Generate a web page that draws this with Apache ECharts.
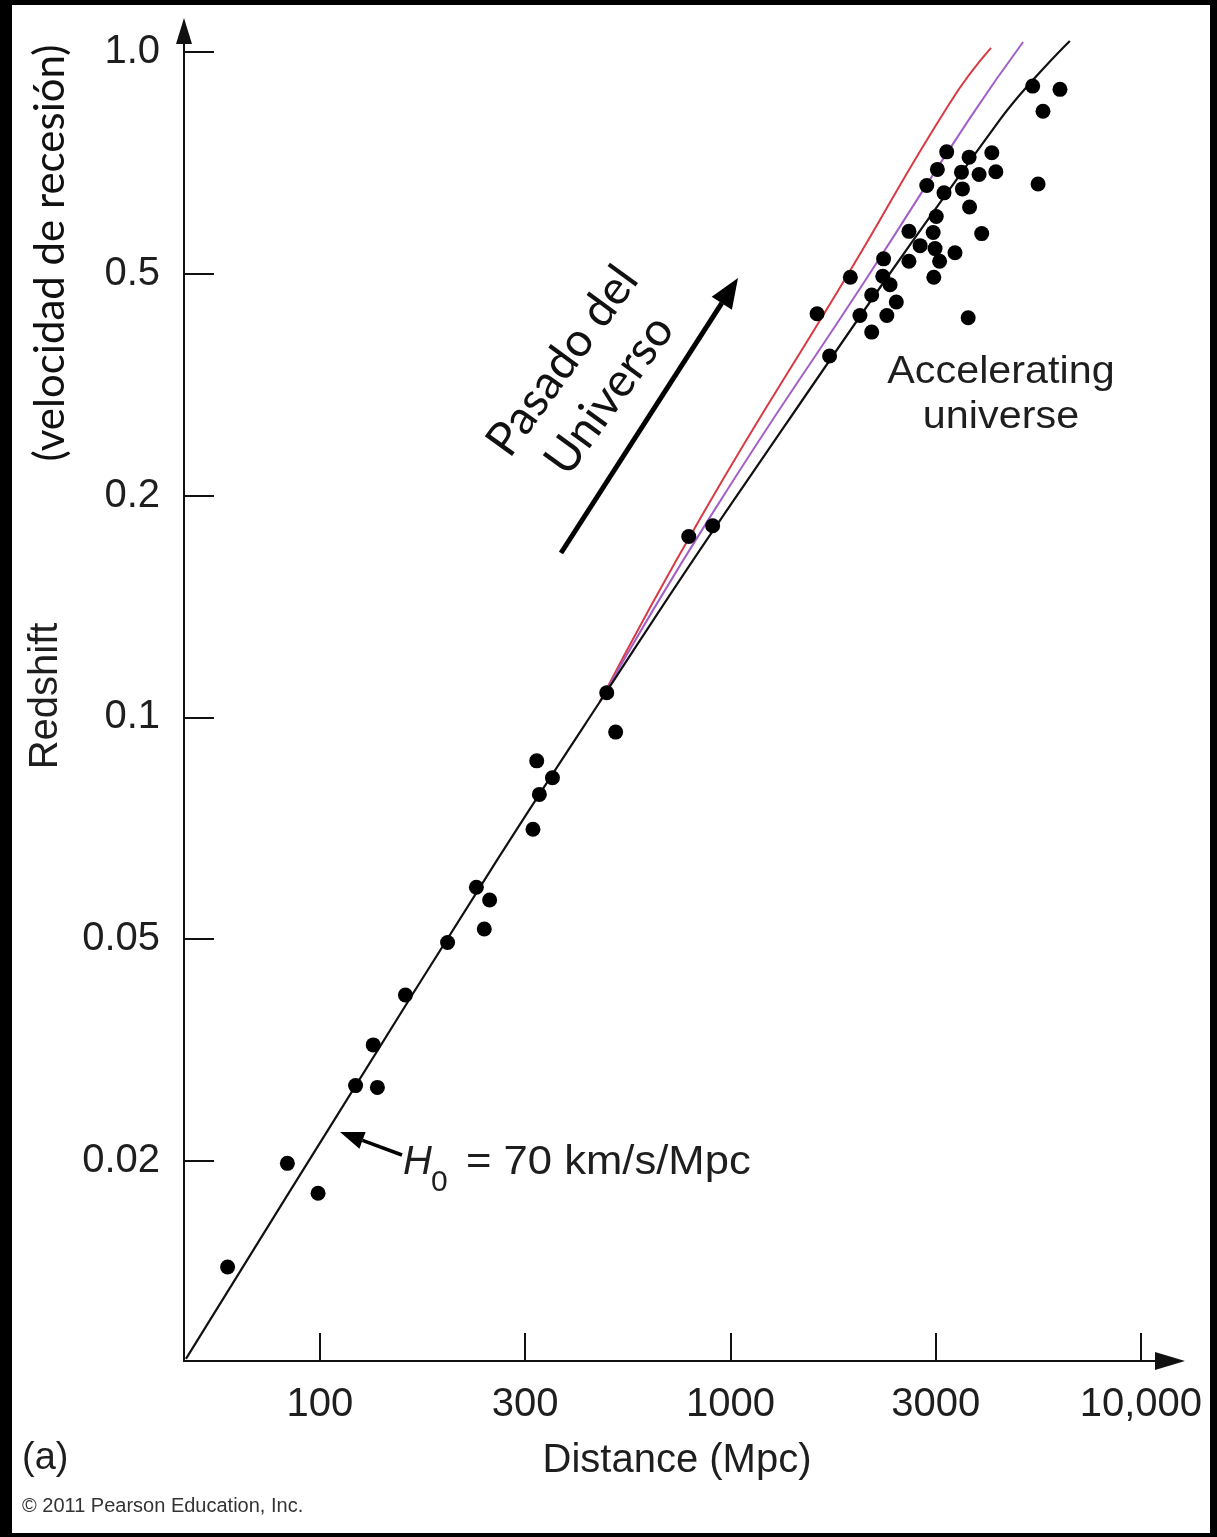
<!DOCTYPE html>
<html>
<head>
<meta charset="utf-8">
<script src="https://cdn.jsdelivr.net/npm/echarts@6/dist/echarts.min.js"></script>
<style>
html,body{margin:0;padding:0;background:#fff;}
#chart{width:1217px;height:1537px;}
</style>
</head>
<body>
<div id="chart"></div>
<script>
// ---- axis ticks (equally spaced on the figure) ----
const X_TICK_VALUES = [100, 300, 1000, 3000, 10000];
const X_TICK_LABELS = ['100', '300', '1000', '3000', '10,000'];
const Y_TICK_VALUES = [0.02, 0.05, 0.1, 0.2, 0.5, 1.0];
const Y_TICK_LABELS = ['0.02', '0.05', '0.1', '0.2', '0.5', '1.0'];
const X_RANGE = [48.3, 11860];
const Y_RANGE = [0.00875, 1.068];

// ---- galaxies / supernovae: distance (Mpc) and redshift ----
const galaxyDistance = [5300, 6220, 5630, 3200, 3650, 4170, 3030, 3490, 3870, 4270,
  2860, 3150, 3510, 5470, 3660, 3010, 2600, 2960, 3930, 2760,
  2990, 3360, 2270, 3070, 2600, 2260, 1900, 2350, 2970, 2130,
  2430, 1590, 2000, 2310, 2130, 3630, 1700,
  783, 901, 484, 510, 321, 352, 326, 314,
  231, 248, 241, 198, 158, 133, 121, 136, 84, 99, 61];
const galaxyRedshift = [0.899, 0.890, 0.831, 0.732, 0.720, 0.730, 0.693, 0.687, 0.682, 0.688,
  0.659, 0.644, 0.652, 0.662, 0.616, 0.598, 0.571, 0.569, 0.567, 0.546,
  0.541, 0.534, 0.524, 0.520, 0.520, 0.495, 0.493, 0.478, 0.493, 0.458,
  0.445, 0.424, 0.421, 0.421, 0.393, 0.417, 0.356,
  0.176, 0.182, 0.108, 0.0955, 0.0873, 0.0828, 0.0786, 0.0705,
  0.0588, 0.0565, 0.0516, 0.0493, 0.0397, 0.0323, 0.0273, 0.0271, 0.0198, 0.0175, 0.0129];

// ---- Hubble law H0 = 70 km/s/Mpc (black) ----
const hubbleDistance = [48.8, 108, 258, 465, 940, 4370, 6590];
const hubbleRedshift = [0.00883, 0.0237, 0.064, 0.105, 0.185, 0.809, 1.035];
// ---- alternative model curves ----
const redDistance = [465, 851, 1870, 3260, 4150];
const redRedshift = [0.105, 0.189, 0.497, 0.853, 1.013];
const purpleDistance = [465, 887, 2110, 3670, 5010];
const purpleRedshift = [0.105, 0.187, 0.501, 0.814, 1.032];

// piecewise-logarithmic position between equally spaced ticks
function toPos(v, ticks) {
  const L = Math.log10, n = ticks.length;
  let k;
  if (v <= ticks[1]) k = 0;
  else if (v >= ticks[n - 2]) k = n - 2;
  else { k = 0; while (v > ticks[k + 1]) k++; }
  return k + (L(v) - L(ticks[k])) / (L(ticks[k + 1]) - L(ticks[k]));
}
const xPos = v => toPos(v, X_TICK_VALUES);
const yPos = v => toPos(v, Y_TICK_VALUES);
const pairs = (xs, ys) => xs.map((x, i) => [xPos(x), yPos(ys[i])]);

const FONT = '"Liberation Sans", Arial, Helvetica, sans-serif';
const HUMANIST = 'Lato, "Open Sans", sans-serif';
const INK = '#1e1e1e';

const xTickPos = X_TICK_VALUES.map(xPos);
const yTickPos = Y_TICK_VALUES.map(yPos);

const chart = echarts.init(document.getElementById('chart'), null, {renderer: 'canvas'});

const option = {
  backgroundColor: '#ffffff',
  animation: false,
  grid: {left: 184, right: 47, top: 31, bottom: 176},
  xAxis: {
    type: 'value',
    min: xPos(X_RANGE[0]),
    max: xPos(X_RANGE[1]),
    name: 'Distance (Mpc)',
    nameLocation: 'middle',
    nameGap: 80,
    nameTextStyle: {fontSize: 40, color: INK, fontFamily: FONT},
    axisLine: {show: true, onZero: false, symbol: ['none', 'triangle'], symbolSize: [18, 30],
      lineStyle: {color: '#111', width: 2}},
    axisTick: {show: true, inside: true, length: 28, customValues: xTickPos,
      lineStyle: {color: '#111', width: 2}},
    axisLabel: {show: true, customValues: xTickPos, margin: 24, fontSize: 40, color: INK,
      fontFamily: FONT, formatter: v => X_TICK_LABELS[Math.round(v)]},
    splitLine: {show: false}
  },
  yAxis: {
    type: 'value',
    min: yPos(Y_RANGE[0]),
    max: yPos(Y_RANGE[1]),
    name: 'Redshift',
    nameLocation: 'middle',
    nameRotate: 90,
    nameGap: 118,
    nameTextStyle: {fontSize: 40, color: INK, fontFamily: FONT},
    axisLine: {show: true, onZero: false, symbol: ['none', 'triangle'], symbolSize: [16, 26],
      lineStyle: {color: '#111', width: 2}},
    axisTick: {show: true, inside: true, length: 30, customValues: yTickPos,
      lineStyle: {color: '#111', width: 2}},
    axisLabel: {show: true, customValues: yTickPos, margin: 24, fontSize: 40, color: INK,
      fontFamily: FONT, formatter: v => Y_TICK_LABELS[Math.round(v)]},
    splitLine: {show: false}
  },
  series: [
    {
      name: 'Red model', type: 'line', data: pairs(redDistance, redRedshift),
      showSymbol: false, smooth: 0.5, z: 2,
      lineStyle: {color: '#d83a44', width: 2}
    },
    {
      name: 'Purple model', type: 'line', data: pairs(purpleDistance, purpleRedshift),
      showSymbol: false, smooth: 0.5, z: 2,
      lineStyle: {color: '#a45ec8', width: 2}
    },
    {
      name: 'Hubble law', type: 'line', data: pairs(hubbleDistance, hubbleRedshift),
      showSymbol: false, smooth: 0.4, z: 3,
      lineStyle: {color: '#111', width: 2.2}
    },
    {
      name: 'Galaxies', type: 'scatter', data: pairs(galaxyDistance, galaxyRedshift),
      symbol: 'circle', symbolSize: 15, z: 4,
      itemStyle: {color: '#000', opacity: 1}
    }
  ],
  graphic: [
    // black frame
    {type: 'rect', shape: {x: 0, y: 0, width: 12, height: 1537}, style: {fill: '#000'}, z: 100},
    {type: 'rect', shape: {x: 0, y: 0, width: 1217, height: 5}, style: {fill: '#000'}, z: 100},
    {type: 'rect', shape: {x: 1210, y: 0, width: 7, height: 1537}, style: {fill: '#000'}, z: 100},
    {type: 'rect', shape: {x: 0, y: 1533, width: 1217, height: 4}, style: {fill: '#000'}, z: 100},
    // y-axis second title
    {type: 'text', x: 50, y: 253, rotation: Math.PI / 2, z: 10,
      style: {text: '(velocidad de recesión)', fontSize: 42, fontFamily: HUMANIST, fill: '#111',
        align: 'center', verticalAlign: 'middle'}},
    // "Pasado del Universo" + arrow
    {type: 'text', x: 586, y: 378, rotation: 54 * Math.PI / 180, z: 10,
      style: {text: 'Pasado del\nUniverso', fontSize: 47, fontFamily: HUMANIST, fill: '#111',
        align: 'center', verticalAlign: 'middle', lineHeight: 58}},
    {type: 'line', shape: {x1: 561, y1: 553, x2: 721.8, y2: 303.2}, z: 10,
      style: {stroke: '#000', lineWidth: 5}},
    {type: 'polygon', shape: {points: [[738, 278], [731.9, 309.7], [711.7, 296.7]]}, z: 10,
      style: {fill: '#000'}},
    // Accelerating universe
    {type: 'text', x: 1001, y: 395, scaleX: 1.06, z: 10,
      style: {text: 'Accelerating\nuniverse', fontSize: 39, fontFamily: FONT, fill: INK,
        align: 'center', verticalAlign: 'middle', lineHeight: 45}},
    // H0 label and arrow
    {type: 'line', shape: {x1: 402, y1: 1155, x2: 362.5, y2: 1140.4}, z: 10,
      style: {stroke: '#000', lineWidth: 3.5}},
    {type: 'polygon', shape: {points: [[340, 1132], [365.6, 1132], [359.4, 1148.8]]}, z: 10,
      style: {fill: '#000'}},
    {type: 'text', x: 403, y: 1163, z: 10,
      style: {text: 'H', fontSize: 40, fontStyle: 'italic', fontFamily: FONT, fill: INK,
        align: 'left', verticalAlign: 'middle'}},
    {type: 'text', x: 431, y: 1183, z: 10,
      style: {text: '0', fontSize: 30, fontFamily: FONT, fill: INK,
        align: 'left', verticalAlign: 'middle'}},
    {type: 'text', x: 466, y: 1163, scaleX: 1.09, z: 10,
      style: {text: '= 70 km/s/Mpc', fontSize: 40, fontFamily: FONT, fill: INK,
        align: 'left', verticalAlign: 'middle'}},
    // panel label and credit
    {type: 'text', x: 22, y: 1459, z: 10,
      style: {text: '(a)', fontSize: 38, fontFamily: FONT, fill: INK,
        align: 'left', verticalAlign: 'middle'}},
    {type: 'text', x: 22, y: 1506, z: 10,
      style: {text: '\u00A9 2011 Pearson Education, Inc.', fontSize: 20, fontFamily: FONT, fill: '#333',
        align: 'left', verticalAlign: 'middle'}}
  ]
};
chart.setOption(option);
</script>
</body>
</html>
